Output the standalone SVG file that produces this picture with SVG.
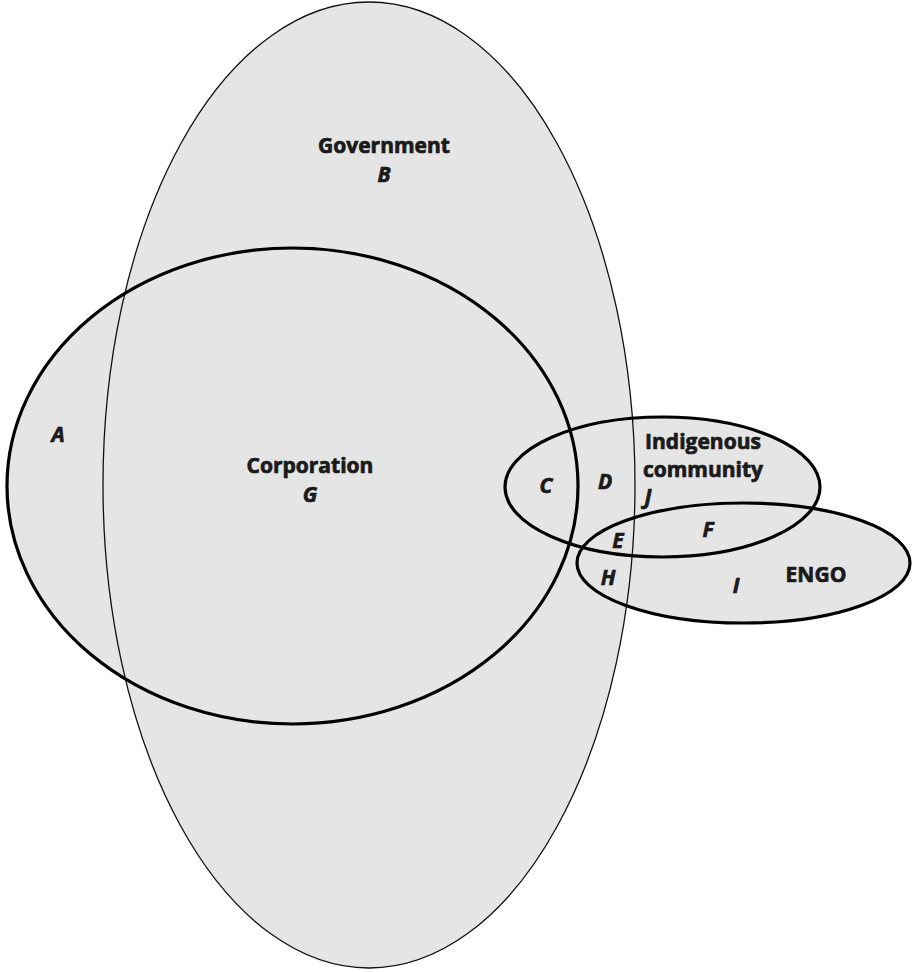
<svg xmlns="http://www.w3.org/2000/svg" width="914" height="972" viewBox="0 0 914 972">
<style>
.fill{fill:#e5e5e5;stroke:none}
.thin{fill:none;stroke:#111;stroke-width:1.3}
.thick{fill:none;stroke:#000;stroke-width:3.2}
.lbl{font-family:"Open Sans","Liberation Sans",sans-serif;font-weight:bold;font-size:21px;fill:#1a1a1a;stroke:#1a1a1a;stroke-width:0.7;text-anchor:middle}
.let{font-family:"Open Sans","Liberation Sans",sans-serif;font-weight:bold;font-style:italic;font-size:21px;fill:#1a1a1a;stroke:#1a1a1a;stroke-width:0.7;text-anchor:middle}
</style>
<rect width="914" height="972" fill="#fff"/>
<g id="fills">
<ellipse class="fill" cx="369" cy="485" rx="266" ry="483"/>
<ellipse class="fill" cx="292.5" cy="486" rx="285.5" ry="238"/>
<ellipse class="fill" cx="662.5" cy="487" rx="157.5" ry="70"/>
<ellipse class="fill" cx="743.5" cy="563" rx="166.5" ry="60"/>
</g>
<g id="government">
<ellipse class="thin" cx="369" cy="485" rx="266" ry="483"/>
<text class="lbl" x="384" y="153">Government</text>
<text class="let" x="384" y="182">B</text>
</g>
<g id="corporation">
<ellipse class="thick" cx="292.5" cy="486" rx="285.5" ry="238"/>
<text class="lbl" x="310" y="473">Corporation</text>
<text class="let" x="310" y="502">G</text>
</g>
<g id="indigenous">
<ellipse class="thick" cx="662.5" cy="487" rx="157.5" ry="70"/>
<text class="lbl" x="703" y="449">Indigenous</text>
<text class="lbl" x="703" y="477">community</text>
<text class="let" x="648" y="504">J</text>
</g>
<g id="engo">
<ellipse class="thick" cx="743.5" cy="563" rx="166.5" ry="60"/>
<text class="lbl" x="816" y="582">ENGO</text>
<text class="let" x="736" y="593">I</text>
</g>
<g id="regions">
<text class="let" x="58" y="442">A</text>
<text class="let" x="546" y="493">C</text>
<text class="let" x="605" y="489">D</text>
<text class="let" x="618" y="548">E</text>
<text class="let" x="708" y="537">F</text>
<text class="let" x="608" y="585">H</text>
</g>
<g id="connectors"></g>
</svg>
